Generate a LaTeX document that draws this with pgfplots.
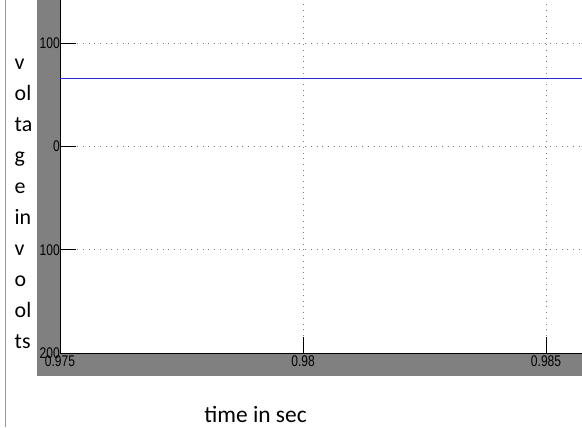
\documentclass[border=0pt]{standalone}
\usepackage{fontspec}
\usepackage{graphicx}
\usepackage{pgfplots}
\pgfplotsset{compat=1.18}
\setmainfont{Carlito}
\newfontfamily\tickfont{Liberation Sans}
\definecolor{scopegray}{RGB}{128,128,128}
\definecolor{traceblue}{RGB}{40,40,215}
\begin{document}
\begin{tikzpicture}[x=1bp,y=1bp]
\path[use as bounding box] (0,0) rectangle (582,427);
\fill[scopegray] (37,51) rectangle (582,427);
\draw[color=black!40, line width=1bp] (5,0) -- (5,427);
\begin{axis}[
  at={(60bp,74bp)}, anchor=south west,
  scale only axis, width=522bp, height=353bp,
  xmin=0.975, xmax=0.98574, ymin=-200, ymax=141.7,
  axis background/.style={fill=white},
  axis x line=bottom, axis y line=left,
  axis line style={black, line width=0.9bp, -},
  xtick={0.975,0.98,0.985},
  xticklabels={\scalebox{0.78}[1]{0.975},\scalebox{0.78}[1]{0.98},\scalebox{0.78}[1]{0.985}},
  ytick={-200,-100,0,100},
  yticklabels={\scalebox{0.78}[1]{200},\scalebox{0.78}[1]{100},\scalebox{0.78}[1]{0},\scalebox{0.78}[1]{100}},
  tick align=inside, major tick length=16bp,
  tick style={black, line width=0.9bp},
  tick label style={font=\tickfont\fontsize{15.5}{15.5}\selectfont, text=black, inner sep=1bp},
  xticklabel style={yshift=-2bp},
  yticklabel style={xshift=1bp},
  /pgf/number format/assume math mode=true,
  grid=major,
  major grid style={scopegray, line width=1bp, dash pattern=on 1bp off 4.7bp},
  clip=true,
]
\addplot[traceblue, line width=1.3bp] coordinates {(0.974,66) (0.987,66)};
\end{axis}
\foreach \t [count=\i from 0] in {v,ol,ta,g,e,in,v,o,ol,ts} {
  \node[anchor=base west, inner sep=0pt, font=\fontsize{22}{22}\selectfont] at (14.5,{427-69-31*\i}) {\t};
}
\node[anchor=base, inner sep=0pt, font=\fontsize{23.5}{23.5}\selectfont] at (255.5,5) {time in sec};
\end{tikzpicture}
\end{document}
